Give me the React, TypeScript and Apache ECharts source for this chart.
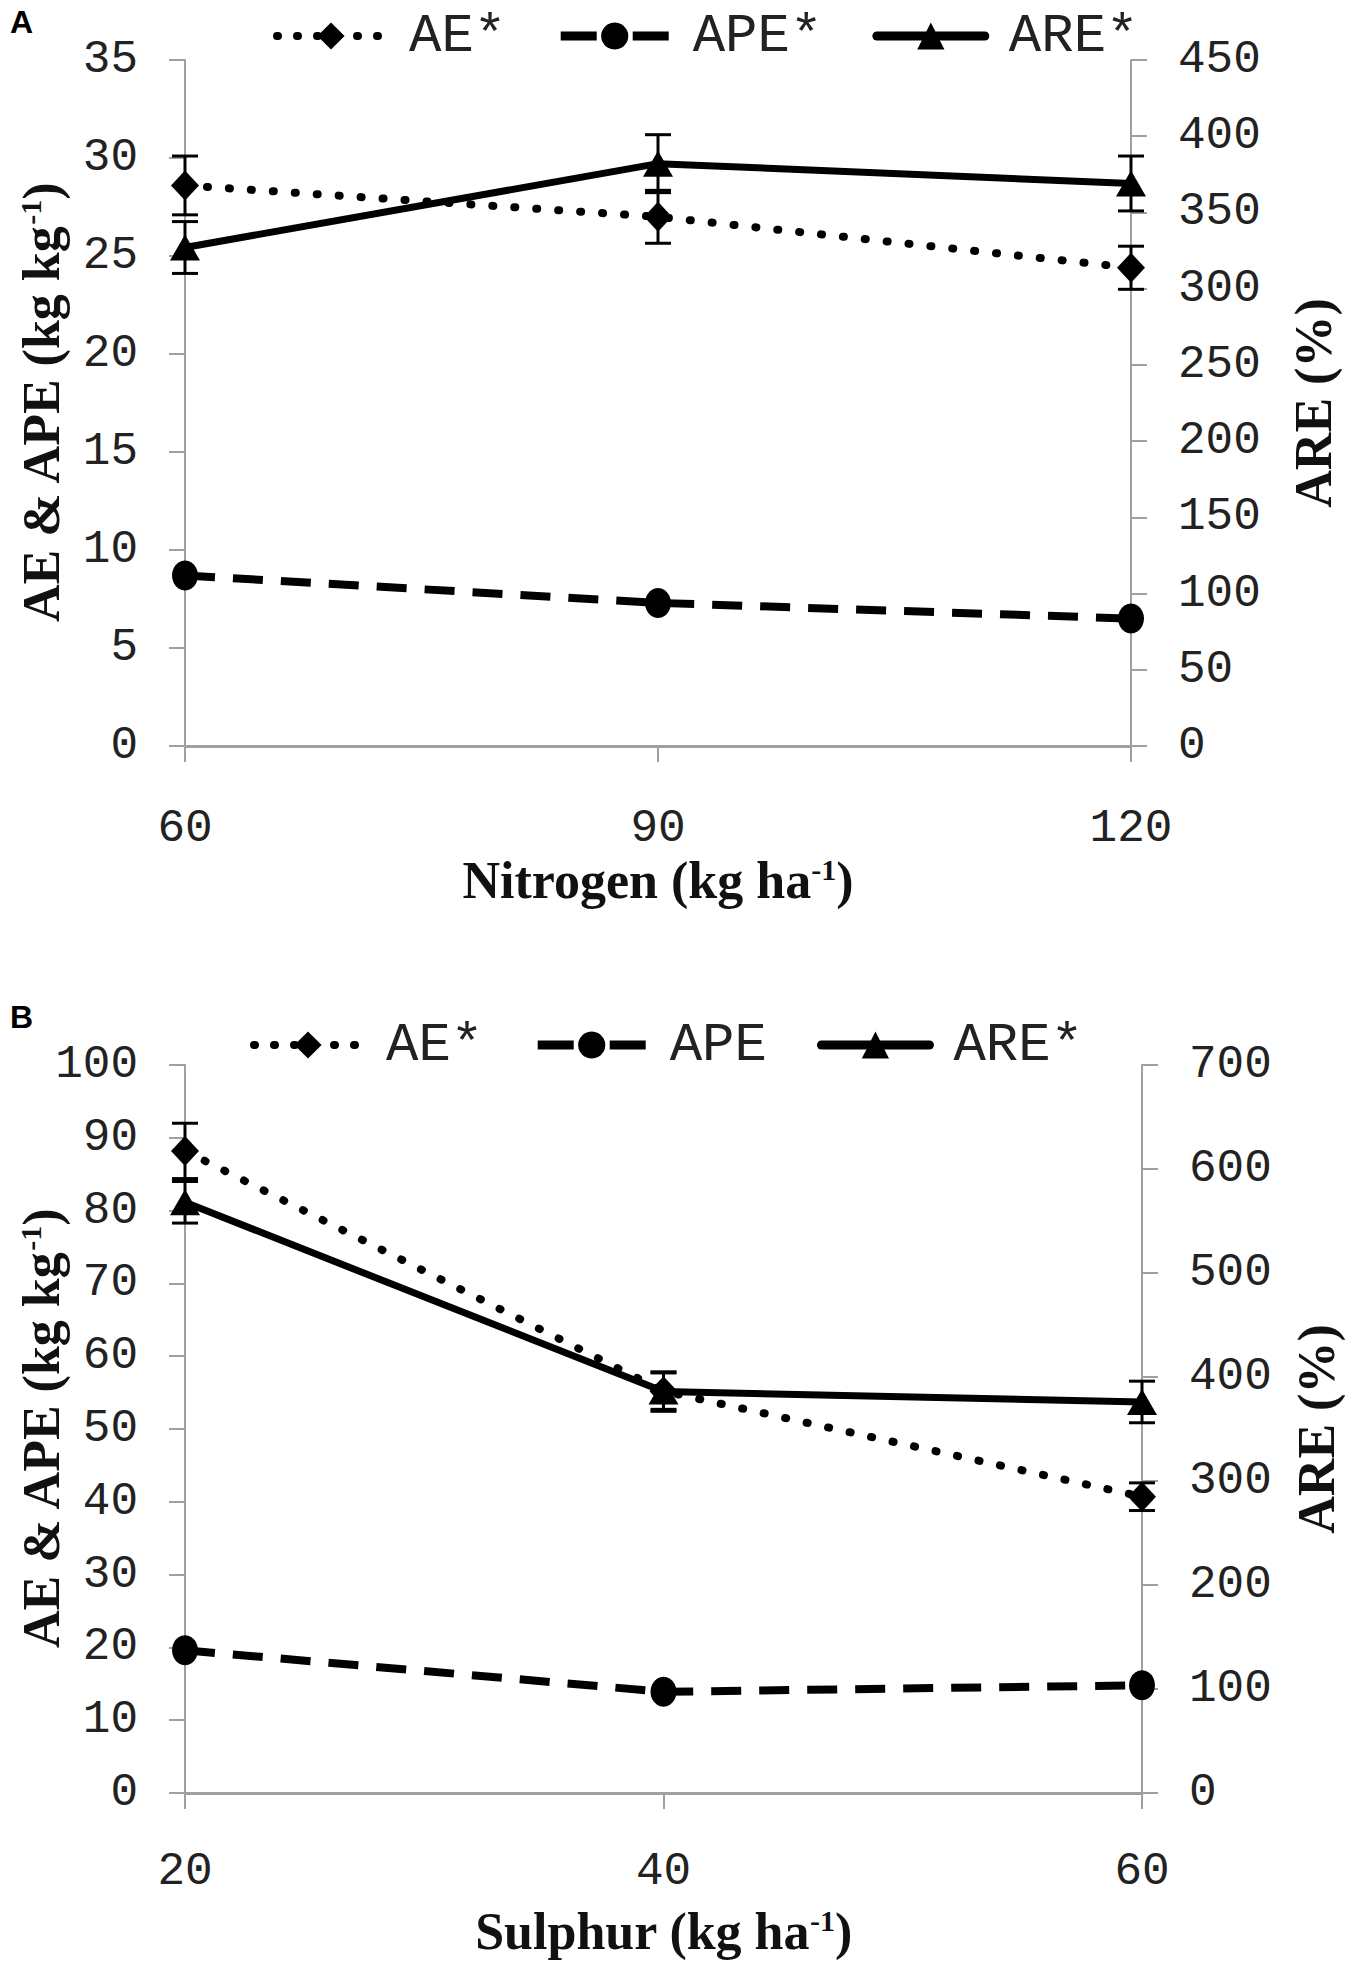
import React, { useEffect, useRef } from "react";
import * as echarts from "echarts";

// ---- Panel A data (Nitrogen) ----
const nitrogen = [60, 90, 120];
const aeA = [28.6, 27.0, 24.4];
const aeAErr = [1.5, 1.35, 1.1];
const apeA = [8.7, 7.3, 6.5];
const areA = [327, 382, 369];
const areAErr = [17, 19, 18];

// ---- Panel B data (Sulphur) ----
const sulphur = [20, 40, 60];
const aeB = [88.2, 55.2, 40.7];
const aeBErr = [3.8, 2.5, 1.9];
const apeB = [19.6, 13.9, 14.8];
const areB = [568, 386, 376];
const areBErr = [20, 19, 20];

const legendA = ["AE*", "APE*", "ARE*"];
const legendB = ["AE*", "APE", "ARE*"];

const MONO = "'Liberation Mono', monospace";
const SERIF = "'Liberation Serif', serif";
const AXIS_GRAY = "#a0a0a0";

const pairs = (xs: number[], ys: number[]) => xs.map((x, i) => [x, ys[i]]);
const triples = (xs: number[], ys: number[], es: number[]) => xs.map((x, i) => [x, ys[i], es[i]]);

const errRender = (params: any, api: any) => {
  const x = api.value(0);
  const y = api.value(1);
  const e = api.value(2);
  const top = api.coord([x, y + e]);
  const bot = api.coord([x, y - e]);
  const cw = 13;
  const style = { stroke: "#000", lineWidth: 3 };
  return {
    type: "group",
    children: [
      { type: "line", shape: { x1: top[0], y1: top[1], x2: bot[0], y2: bot[1] }, style },
      { type: "line", shape: { x1: top[0] - cw, y1: top[1], x2: top[0] + cw, y2: top[1] }, style },
      { type: "line", shape: { x1: bot[0] - cw, y1: bot[1], x2: bot[0] + cw, y2: bot[1] }, style },
    ],
  };
};

const titleRich = {
  sup: { fontSize: 30, fontFamily: SERIF, fontWeight: "bold", color: "#111", verticalAlign: "top", lineHeight: 30 },
};

const xAxisCfg = (min: number, max: number, interval: number, gridIndex: number, name: string, labelMargin: number, nameGap: number) => ({
  type: "value",
  gridIndex,
  min,
  max,
  interval,
  name,
  nameLocation: "middle",
  nameGap,
  nameMoveOverlap: false,
  nameTextStyle: { fontFamily: SERIF, fontWeight: "bold", fontSize: 52, color: "#111", rich: titleRich },
  axisLine: { show: true, onZero: false, lineStyle: { color: AXIS_GRAY, width: 3 } },
  axisTick: { show: true, length: 16, lineStyle: { color: AXIS_GRAY, width: 2 } },
  axisLabel: { fontFamily: MONO, fontSize: 46, color: "#222", margin: labelMargin },
  splitLine: { show: false },
});

const yAxisCfg = (max: number, interval: number, gridIndex: number, position: string, name: string, nameGap: number) => ({
  type: "value",
  gridIndex,
  position,
  min: 0,
  max,
  interval,
  name,
  nameLocation: "middle",
  nameGap,
  nameMoveOverlap: false,
  nameTextStyle: { fontFamily: SERIF, fontWeight: "bold", fontSize: 52, color: "#111", rich: titleRich },
  axisLine: { show: true, lineStyle: { color: AXIS_GRAY, width: 2 } },
  axisTick: { show: true, length: 16, lineStyle: { color: AXIS_GRAY, width: 2 } },
  axisLabel: { fontFamily: MONO, fontSize: 46, color: "#222", margin: 47 },
  splitLine: { show: false },
});

const aeStyle = { color: "#000", width: 8, type: [1, 21], cap: "round" };
const apeStyle = { color: "#000", width: 8, type: [30, 18], cap: "butt" };
const areStyle = { color: "#000", width: 7, type: "solid" };

const legendLine: Record<string, any> = {
  "AE*": { color: "#000", width: 8, type: [1, 19], cap: "round" },
  "APE*": { color: "#000", width: 9, type: [36, 36], cap: "butt" },
  APE: { color: "#000", width: 9, type: [36, 36], cap: "butt" },
  "ARE*": { color: "#000", width: 9, type: "solid", cap: "round" },
};

const lineSeries = (name: string, data: number[][], xi: number, yi: number, lineStyle: any, symbol: string, symbolSize: any) => ({
  type: "line",
  name,
  xAxisIndex: xi,
  yAxisIndex: yi,
  data,
  lineStyle,
  symbol,
  symbolSize,
  itemStyle: { color: "#000" },
  showSymbol: true,
});

const errSeries = (name: string, data: number[][], xi: number, yi: number) => ({
  type: "custom",
  name,
  xAxisIndex: xi,
  yAxisIndex: yi,
  data,
  renderItem: errRender,
  encode: { x: 0, y: 1 },
  z: 3,
});

const legendCfg = (names: string[], left: number, top: number) => ({
  data: names.map((n) => ({ name: n, lineStyle: legendLine[n] })),
  left,
  top,
  itemWidth: 108,
  itemHeight: 34,
  itemGap: 50,
  textStyle: { fontFamily: MONO, fontSize: 54, color: "#222", padding: [0, 0, 0, 19] },
  selectedMode: false,
});

export default function App() {
  const ref = useRef<HTMLDivElement>(null);
  useEffect(() => {
    if (!ref.current) return;
    const chart = echarts.init(ref.current, null, { renderer: "svg" });
    const option: any = {
      animation: false,
      backgroundColor: "#fff",
      title: [
        { text: "A", left: 5, top: 1, textStyle: { fontFamily: "'Liberation Sans', sans-serif", fontWeight: "bold", fontSize: 32, color: "#000" } },
        { text: "B", left: 5, top: 996, textStyle: { fontFamily: "'Liberation Sans', sans-serif", fontWeight: "bold", fontSize: 32, color: "#000" } },
      ],
      legend: [legendCfg(legendA, 268, 4), legendCfg(legendB, 245, 1013)],
      grid: [
        { left: 185, top: 60, width: 946, height: 686, outerBoundsMode: "none", containLabel: false },
        { left: 185, top: 1065, width: 957, height: 728, outerBoundsMode: "none", containLabel: false },
      ],
      xAxis: [
        xAxisCfg(60, 120, 30, 0, "Nitrogen (kg ha{sup|-1})", 60, 108),
        xAxisCfg(20, 60, 20, 1, "Sulphur (kg ha{sup|-1})", 56, 112),
      ],
      yAxis: [
        yAxisCfg(35, 5, 0, "left", "AE & APE (kg kg{sup|-1})", 118),
        yAxisCfg(450, 50, 0, "right", "ARE (%)", 156),
        yAxisCfg(100, 10, 1, "left", "AE & APE (kg kg{sup|-1})", 118),
        yAxisCfg(700, 100, 1, "right", "ARE (%)", 148),
      ],
      series: [
        lineSeries("AE*", pairs(nitrogen, aeA), 0, 0, aeStyle, "diamond", [28, 30]),
        lineSeries("APE*", pairs(nitrogen, apeA), 0, 0, apeStyle, "circle", [26, 30]),
        lineSeries("ARE*", pairs(nitrogen, areA), 0, 1, areStyle, "triangle", [30, 26]),
        errSeries("errAE_A", triples(nitrogen, aeA, aeAErr), 0, 0),
        errSeries("errARE_A", triples(nitrogen, areA, areAErr), 0, 1),
        lineSeries("AE*", pairs(sulphur, aeB), 1, 2, aeStyle, "diamond", [28, 30]),
        lineSeries("APE", pairs(sulphur, apeB), 1, 2, apeStyle, "circle", [26, 30]),
        lineSeries("ARE*", pairs(sulphur, areB), 1, 3, areStyle, "triangle", [30, 26]),
        errSeries("errAE_B", triples(sulphur, aeB, aeBErr), 1, 2),
        errSeries("errARE_B", triples(sulphur, areB, areBErr), 1, 3),
      ],
    };
    chart.setOption(option);
    return () => chart.dispose();
  }, []);
  return <div ref={ref} style={{ position: "absolute", left: 0, top: 0, width: 1350, height: 1964 }} />;
}
